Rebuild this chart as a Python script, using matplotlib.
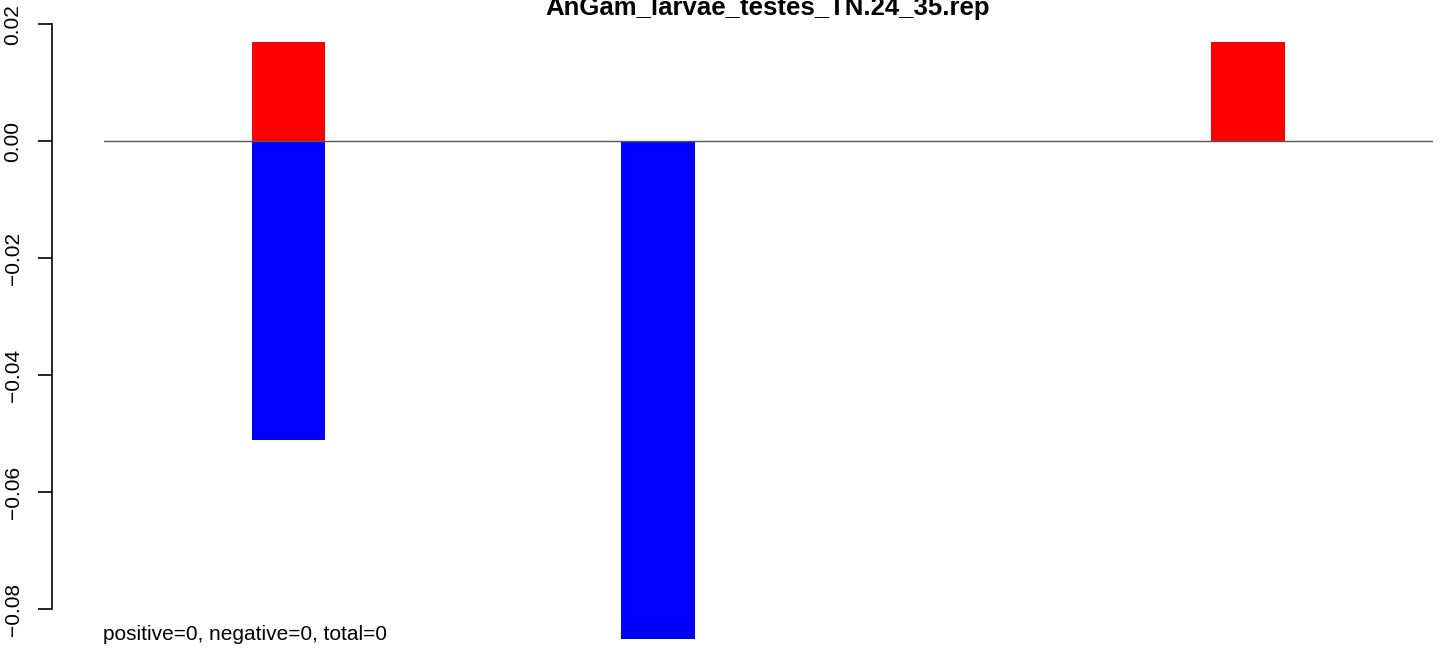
import numpy as np
import matplotlib
matplotlib.use('Agg')
import matplotlib.pyplot as plt

plt.rcParams['font.family'] = ['Liberation Sans', 'DejaVu Sans']

title = 'AnGam_larvae_testes_TN.24_35.rep'
n_slots = 18
pos_slots = [2, 15]
pos_vals = [0.017, 0.017]
neg_slots = [2, 7]
neg_vals = [-0.051, -0.085]
yticks = [0.02, 0.00, -0.02, -0.04, -0.06, -0.08]
note = 'positive=0, negative=0, total=0'

W, H = 1444, 655
fig = plt.figure(figsize=(W / 100, H / 100), dpi=100)
ax = fig.add_axes([104 / W, (H - 639) / H, (1432.7 - 104) / W, (639 - 17.9) / H])

ax.bar(pos_slots, pos_vals, width=1, align='edge', color='#ff0000', linewidth=0)
ax.bar(neg_slots, neg_vals, width=1, align='edge', color='#0000ff', linewidth=0)
ax.axhline(0, color='#555555', lw=1, zorder=3)

ax.set_xlim(0, n_slots)
ax.set_ylim(-0.08508, 0.02109)
ax.set_xticks([])
for s in ['top', 'right', 'bottom']:
    ax.spines[s].set_visible(False)
# spine sits left of the plot region, like R's axis()
ax.spines['left'].set_position(('outward', (104 - 51.7) * 0.72))
ax.spines['left'].set_bounds(-0.08, 0.02)
ax.spines['left'].set_linewidth(1.2)
ax.set_yticks(yticks)
ax.set_yticklabels(['%.2f' % v if v >= 0 else '\u2212%.2f' % -v for v in yticks],
                   rotation=90, va='center', fontsize=15)
ax.tick_params(axis='y', length=10, width=1.2, pad=11)

fig.text(768 / W, (H - 15) / H, title, ha='center', va='baseline',
         fontsize=18.5, fontweight='bold')
fig.text(103 / W, (H - 634) / H, note, ha='left', va='center', fontsize=15)

fig.savefig('out.png', dpi=100)
